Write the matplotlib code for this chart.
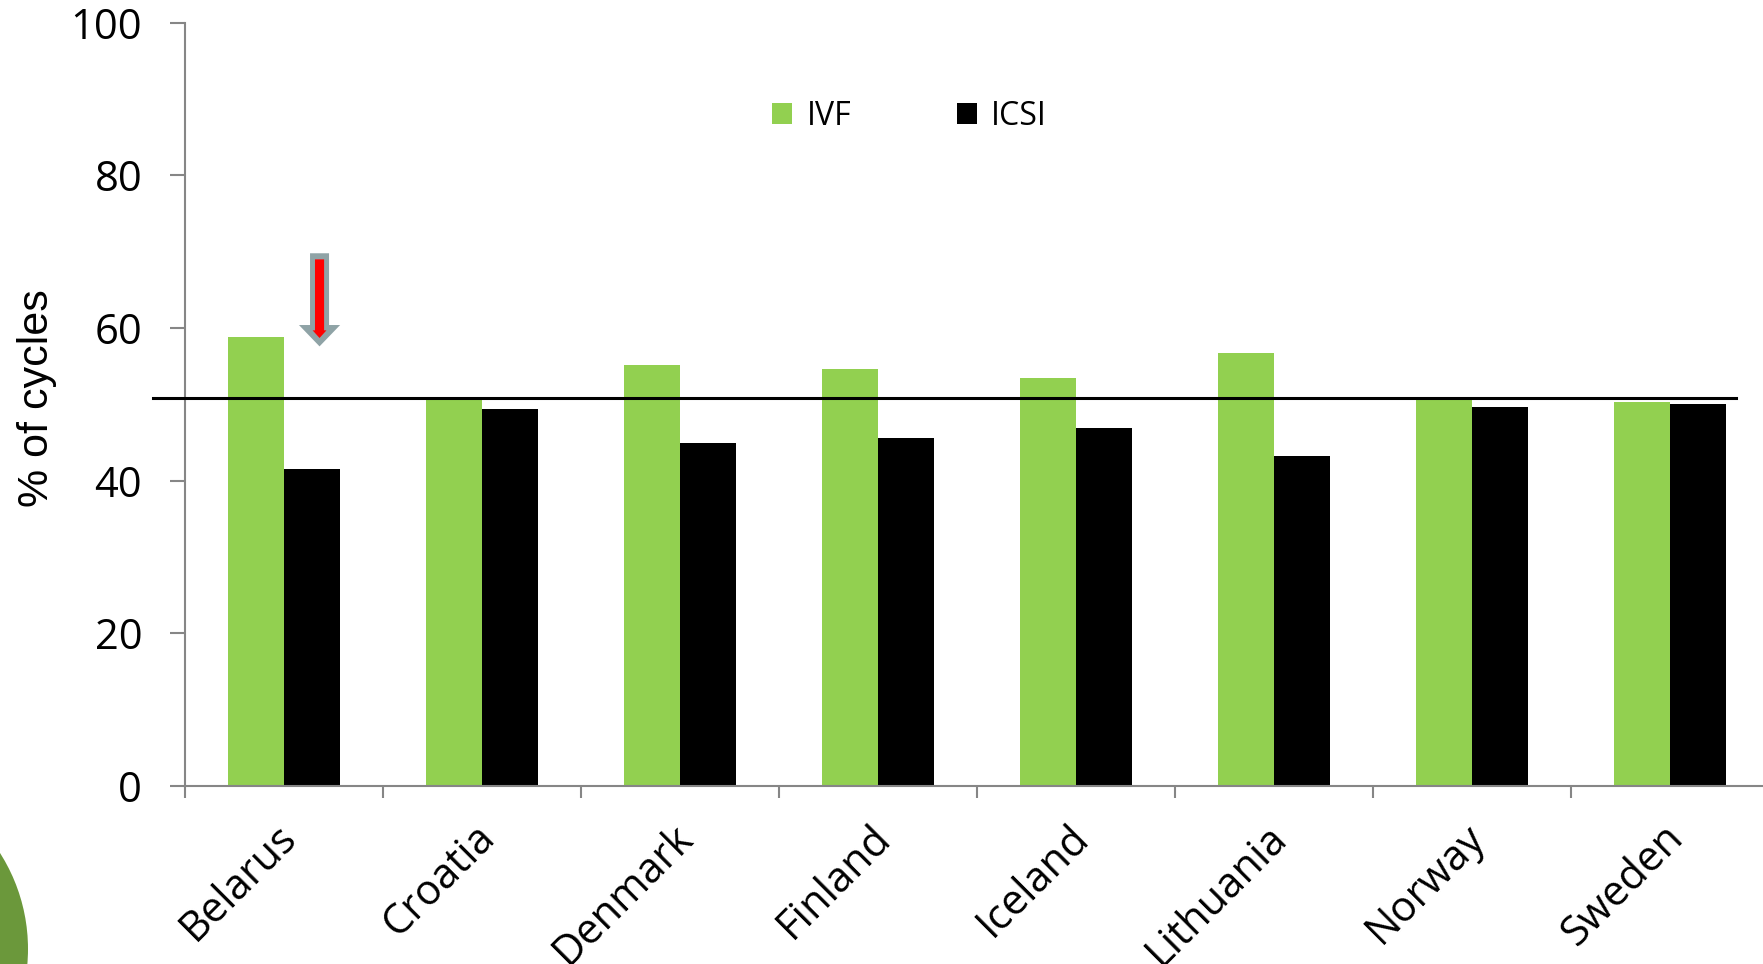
import numpy as np
import matplotlib.pyplot as plt
from matplotlib.patches import Polygon, Circle, Patch
from matplotlib.transforms import ScaledTranslation

countries = ['Belarus', 'Croatia', 'Denmark', 'Finland', 'Iceland', 'Lithuania', 'Norway', 'Sweden']
ivf = [58.8, 50.7, 55.1, 54.7, 53.4, 56.7, 50.7, 50.3]
icsi = [41.5, 49.4, 44.9, 45.6, 46.9, 43.2, 49.7, 50.0]
reference_level = 50.9
yticks = [0, 20, 40, 60, 80, 100]

green = '#92d050'
axis_grey = '#868686'

fig = plt.figure(figsize=(17.63, 9.64), dpi=100)
ax = fig.add_axes([0.1051, 0.1846, 0.8985, 0.7918])

x = np.arange(len(countries))
w = 0.283
ax.bar(x - w / 2, ivf, w, color=green, label='IVF')
ax.bar(x + w / 2, icsi, w, color='black', label='ICSI')

ax.set_xlim(-0.5, len(countries) - 0.5)
ax.set_ylim(0, 100)

# horizontal reference line, runs a bit past the y axis
ax.plot([-0.0204, 0.979], [reference_level, reference_level], color='black', lw=2.2,
        transform=ax.get_yaxis_transform(), clip_on=False, zorder=5)

for side in ['top', 'right']:
    ax.spines[side].set_visible(False)
for side in ['left', 'bottom']:
    ax.spines[side].set_color(axis_grey)
    ax.spines[side].set_linewidth(1.5)

ax.set_yticks(yticks)
ax.set_yticklabels([str(v) for v in yticks], fontfamily='Open Sans', fontsize=30)
ax.tick_params(axis='y', length=11, width=1.5, color=axis_grey, pad=20)

# group boundaries get the tick marks, country names sit at the centres
ax.set_xticks(np.arange(len(countries) + 1) - 0.5)
ax.set_xticklabels([])
ax.tick_params(axis='x', which='major', length=8.5, width=1.5, color=axis_grey)
ax.set_xticks(x, minor=True)
ax.set_xticklabels(countries, minor=True, fontfamily='Open Sans', fontsize=30,
                   rotation=45, ha='right', va='top', rotation_mode='anchor')
ax.tick_params(axis='x', which='minor', length=0, pad=22)
shift = ScaledTranslation(-6 / 72, 0, fig.dpi_scale_trans)
for lbl in ax.get_xticklabels(minor=True):
    lbl.set_transform(lbl.get_transform() + shift)

ax.set_ylabel('% of cycles', fontfamily='Liberation Sans', fontsize=31)
ax.yaxis.set_label_coords(-0.0807, 0.508)

handles = [Patch(facecolor=green, edgecolor='none'), Patch(facecolor='black', edgecolor='none')]
ax.legend(handles, ['IVF', 'ICSI'], ncol=2, frameon=False, loc='center',
          bbox_to_anchor=(0.516, 0.879), bbox_transform=fig.transFigure,
          prop={'family': 'Open Sans', 'size': 23}, handlelength=0.63, handleheight=0.63,
          handletextpad=0.45, columnspacing=3.3)

# marker arrow over Belarus
ax_x, top, neck, tip = 0.178, 69.8, 60.4, 57.6
outer = [(ax_x - 0.048, top), (ax_x + 0.048, top), (ax_x + 0.048, neck), (ax_x + 0.104, neck),
         (ax_x, tip), (ax_x - 0.104, neck), (ax_x - 0.048, neck)]
inner = [(ax_x - 0.023, 69.0), (ax_x + 0.023, 69.0), (ax_x + 0.023, 59.7), (ax_x + 0.035, 59.7),
         (ax_x, 58.7), (ax_x - 0.035, 59.7), (ax_x - 0.023, 59.7)]
ax.add_patch(Polygon(outer, closed=True, facecolor='#8fa3a6', edgecolor='none', clip_on=False, zorder=6))
ax.add_patch(Polygon(inner, closed=True, facecolor='#ff0000', edgecolor='none', clip_on=False, zorder=7))

# corner decoration
fig.add_artist(Circle((-1.506, 0.15), 1.786, transform=fig.dpi_scale_trans,
                      facecolor='#6b983b', edgecolor='none'))

fig.savefig('out.png', dpi=100)
